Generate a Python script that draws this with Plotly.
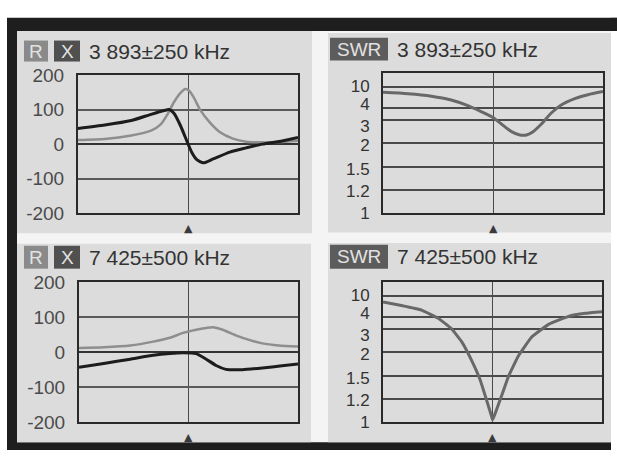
import numpy as np
import plotly.graph_objects as go

W, H = 617, 461

# ---------------- data ----------------
# Panel 1: R / X, 3 893 ± 250 kHz
P1_CENTER, P1_HALF = 3893, 250
P1_F_R = [3643, 3704, 3764, 3809, 3831, 3846, 3861, 3876, 3887, 3895, 3906, 3921, 3943, 3965, 3995, 4025, 4062, 4100, 4143]
P1_R = [12, 15, 25, 39, 57, 85, 121, 148, 159, 155, 135, 98, 62, 35, 16, 7, 5, 6, 10]
P1_F_X = [3643, 3704, 3764, 3809, 3839, 3850, 3861, 3876, 3891, 3902, 3913, 3928, 3950, 3988, 4025, 4062, 4107, 4143]
P1_X = [45, 55, 68, 86, 97, 100, 89, 53, 7, -25, -45, -54, -43, -23, -11, 0, 9, 19]

# Panel 2: SWR, 3 893 ± 250 kHz
P2_CENTER, P2_HALF = 3893, 250
P2_F = [3643, 3700, 3753, 3798, 3836, 3866, 3893, 3916, 3935, 3954, 3969, 3984, 4003, 4026, 4048, 4079, 4109, 4143]
P2_SWR = [8.5, 8.1, 7.4, 6.3, 4.7, 3.7, 3.2, 2.76, 2.49, 2.35, 2.35, 2.49, 2.82, 3.6, 4.9, 6.7, 7.8, 8.7]

# Panel 3: R / X, 7 425 ± 500 kHz
P3_CENTER, P3_HALF = 7425, 500
P3_F_R = [6925, 7038, 7159, 7264, 7340, 7400, 7460, 7506, 7536, 7581, 7641, 7702, 7762, 7837, 7925]
P3_R = [12, 14, 19, 30, 41, 55, 64, 69, 71, 64, 48, 35, 25, 19, 16]
P3_F_X = [6925, 7038, 7159, 7264, 7340, 7400, 7460, 7506, 7551, 7596, 7671, 7762, 7852, 7925]
P3_X = [-43, -32, -20, -9, -4, -2, -4, -20, -38, -49, -50, -45, -39, -34]

# Panel 4: SWR, 7 425 ± 500 kHz
P4_CENTER, P4_HALF = 7425, 500
P4_F = [6925, 7009, 7101, 7177, 7238, 7284, 7330, 7368, 7398, 7421, 7425, 7436, 7467, 7498, 7543, 7604, 7681, 7772, 7849, 7925]
P4_SWR = [8.3, 7.3, 6.0, 3.9, 3.0, 2.45, 1.82, 1.45, 1.19, 1.05, 1.02, 1.07, 1.245, 1.49, 1.92, 2.65, 3.38, 4.2, 5.07, 5.53]

RX_TICKS = [-200, -100, 0, 100, 200]
RX_TICKTEXT = ["-200", "-100", "0", "100", "200"]
SWR_TICKS = [1, 1.2, 1.5, 2, 3, 4, 10]
SWR_TICKTEXT = ["1", "1.2", "1.5", "2", "3", "4", "10"]
# the analyser's own (non-linear) SWR screen scale
SWR_SCALE_POS = [0, 1, 2, 3, 4, 4.5, 5.4]
SWR_SCALE_TOP = 6.0
# where the analyser prints the SWR labels on that scale (3 and 4 spread apart)
SWR_LABEL_POS = [0, 0.95, 1.9, 2.9, 3.74, 4.66, 5.44]

TITLES = ["3 893±250 kHz", "3 893±250 kHz", "7 425±500 kHz", "7 425±500 kHz"]


def swr_screen(v):
    return np.interp(v, SWR_TICKS, SWR_SCALE_POS)


# ---------------- styling / geometry ----------------
FONT = "Liberation Sans, Arial, sans-serif"
R_COLOR = "#8e8e8e"
X_COLOR = "#1c1c1c"
SWR_COLOR = "#686868"


def dx(a, b):
    return [a / W, b / W]


def dy(top, bottom):
    return [1 - bottom / H, 1 - top / H]


fig = go.Figure()

fig.add_trace(go.Scatter(x=P1_F_R, y=P1_R, mode="lines", line=dict(color=R_COLOR, width=2.5, shape="spline", smoothing=0.6), xaxis="x", yaxis="y"))
fig.add_trace(go.Scatter(x=P1_F_X, y=P1_X, mode="lines", line=dict(color=X_COLOR, width=3, shape="spline", smoothing=0.6), xaxis="x", yaxis="y"))
fig.add_trace(go.Scatter(x=P2_F, y=swr_screen(P2_SWR), mode="lines", line=dict(color=SWR_COLOR, width=3, shape="spline", smoothing=0.6), xaxis="x2", yaxis="y2"))
fig.add_trace(go.Scatter(x=P3_F_R, y=P3_R, mode="lines", line=dict(color=R_COLOR, width=2.5, shape="spline", smoothing=0.6), xaxis="x3", yaxis="y3"))
fig.add_trace(go.Scatter(x=P3_F_X, y=P3_X, mode="lines", line=dict(color=X_COLOR, width=3, shape="spline", smoothing=0.4), xaxis="x3", yaxis="y3"))
fig.add_trace(go.Scatter(x=P4_F, y=swr_screen(P4_SWR), mode="lines", line=dict(color=SWR_COLOR, width=3, shape="spline", smoothing=0.3), xaxis="x4", yaxis="y4"))
# invisible companions that carry the SWR label axes
fig.add_trace(go.Scatter(x=P2_F, y=swr_screen(P2_SWR), mode="lines", opacity=0, hoverinfo="skip", xaxis="x2", yaxis="y5"))
fig.add_trace(go.Scatter(x=P4_F, y=swr_screen(P4_SWR), mode="lines", opacity=0, hoverinfo="skip", xaxis="x4", yaxis="y6"))


def xax(dom, center, half, anchor):
    return dict(domain=dom, anchor=anchor, range=[center - half, center + half], showline=True, mirror=True,
                linecolor="#2a2a2a", linewidth=2, showgrid=True, gridcolor="#4a4a4a", gridwidth=1,
                tickvals=[center], showticklabels=False, ticks="", zeroline=False, fixedrange=True)


def yax_rx(dom, anchor):
    return dict(domain=dom, anchor=anchor, range=[-200, 200], tickvals=RX_TICKS, ticktext=RX_TICKTEXT,
                showline=True, mirror=True, linecolor="#2a2a2a", linewidth=2,
                showgrid=True, gridcolor="#5a5a5a", gridwidth=1.5,
                zeroline=True, zerolinecolor="#333333", zerolinewidth=2,
                ticks="outside", ticklen=8, tickcolor="rgba(0,0,0,0)",
                tickfont=dict(family=FONT, size=19, color="#4a4a4a"), fixedrange=True)


def yax_swr(dom, anchor):
    return dict(domain=dom, anchor=anchor, range=[0, SWR_SCALE_TOP], tickvals=SWR_SCALE_POS,
                showticklabels=False,
                showline=True, mirror=True, linecolor="#2a2a2a", linewidth=2,
                showgrid=True, gridcolor="#4a4a4a", gridwidth=1.5, zeroline=False,
                ticks="", fixedrange=True)


def yax_swr_labels(overlay, anchor):
    return dict(overlaying=overlay, anchor=anchor, side="left", range=[0, SWR_SCALE_TOP],
                tickvals=SWR_LABEL_POS, ticktext=SWR_TICKTEXT, showgrid=False, showline=False, zeroline=False,
                ticks="outside", ticklen=9, tickcolor="rgba(0,0,0,0)",
                tickfont=dict(family=FONT, size=17, color="#333333"), fixedrange=True)


shapes = []
# black photo frame
shapes.append(dict(type="rect", xref="paper", yref="paper", x0=7 / W, x1=611 / W, y0=0, y1=1 - 8 / H,
                   fillcolor="#1e1e1e", line=dict(width=0), layer="below"))
shapes.append(dict(type="rect", xref="paper", yref="paper", x0=611 / W, x1=1, y0=1 - 22 / H, y1=1 - 8 / H,
                   fillcolor="#1e1e1e", line=dict(width=0), layer="below"))
# light screen area
shapes.append(dict(type="rect", xref="paper", yref="paper", x0=17 / W, x1=611 / W, y0=1 - 453 / H, y1=1 - 22 / H,
                   fillcolor="#f4f4f4", line=dict(width=0), layer="below"))
# four panels
for (a, b, t, btm) in [(17, 312, 22, 234), (328, 611, 24, 233), (17, 311, 245, 453), (328, 611, 244, 453)]:
    shapes.append(dict(type="rect", xref="paper", yref="paper", x0=a / W, x1=b / W, y0=1 - btm / H, y1=1 - t / H,
                       fillcolor="#dcdcdc", line=dict(width=0), layer="below"))

annotations = []


def label_box(x0, x1, y0, y1, fill, text):
    shapes.append(dict(type="rect", xref="paper", yref="paper", x0=x0 / W, x1=x1 / W, y0=1 - y1 / H, y1=1 - y0 / H,
                       fillcolor=fill, line=dict(width=0), layer="below"))
    annotations.append(dict(xref="paper", yref="paper", x=(x0 + x1) / 2 / W, y=1 - (y0 + y1) / 2 / H, text=text,
                            showarrow=False, xanchor="center", yanchor="middle",
                            font=dict(family=FONT, size=19, color="#e2e2e2")))


def title(x, yc, text):
    annotations.append(dict(xref="paper", yref="paper", x=x / W, y=1 - yc / H, text=text, showarrow=False,
                            xanchor="left", yanchor="middle", font=dict(family=FONT, size=21, color="#333333")))


# top-left
label_box(24, 48, 32, 54, "#8a8a8a", "R")
label_box(54, 80, 32, 54, "#505050", "X")
title(87, 43, TITLES[0])
# top-right
label_box(330, 388, 29, 53, "#5c5c5c", "SWR")
title(395, 41, TITLES[1])
# bottom-left
label_box(24, 48, 247, 271, "#8a8a8a", "R")
label_box(54, 80, 247, 271, "#505050", "X")
title(87, 259, TITLES[2])
# bottom-right
label_box(330, 388, 246, 271, "#5c5c5c", "SWR")
title(395, 258, TITLES[3])

# centre markers
for xr, yr, c in [("x", "y", P1_CENTER), ("x2", "y2", P2_CENTER), ("x3", "y3", P3_CENTER), ("x4", "y4", P4_CENTER)]:
    annotations.append(dict(xref=xr, yref=yr + " domain", x=c, y=-0.045, text="▲", showarrow=False,
                            xanchor="center", yanchor="top", font=dict(family="DejaVu Sans", size=11, color="#3a3a3a")))

fig.update_layout(
    width=W, height=H, autosize=False,
    margin=dict(l=0, r=0, t=0, b=0, pad=0),
    paper_bgcolor="#ffffff", plot_bgcolor="#e8e8e8",
    showlegend=False,
    xaxis=xax(dx(78, 298), P1_CENTER, P1_HALF, "y"),
    yaxis=yax_rx(dy(68, 213), "x"),
    xaxis2=xax(dx(383, 603), P2_CENTER, P2_HALF, "y2"),
    yaxis2=yax_swr(dy(66, 213), "x2"),
    xaxis3=xax(dx(79, 298), P3_CENTER, P3_HALF, "y3"),
    yaxis3=yax_rx(dy(285, 432), "x3"),
    xaxis4=xax(dx(383, 602), P4_CENTER, P4_HALF, "y4"),
    yaxis4=yax_swr(dy(285, 432), "x4"),
    yaxis5=yax_swr_labels("y2", "x2"),
    yaxis6=yax_swr_labels("y4", "x4"),
    shapes=shapes,
    annotations=annotations,
)

fig.write_html("out.html")
